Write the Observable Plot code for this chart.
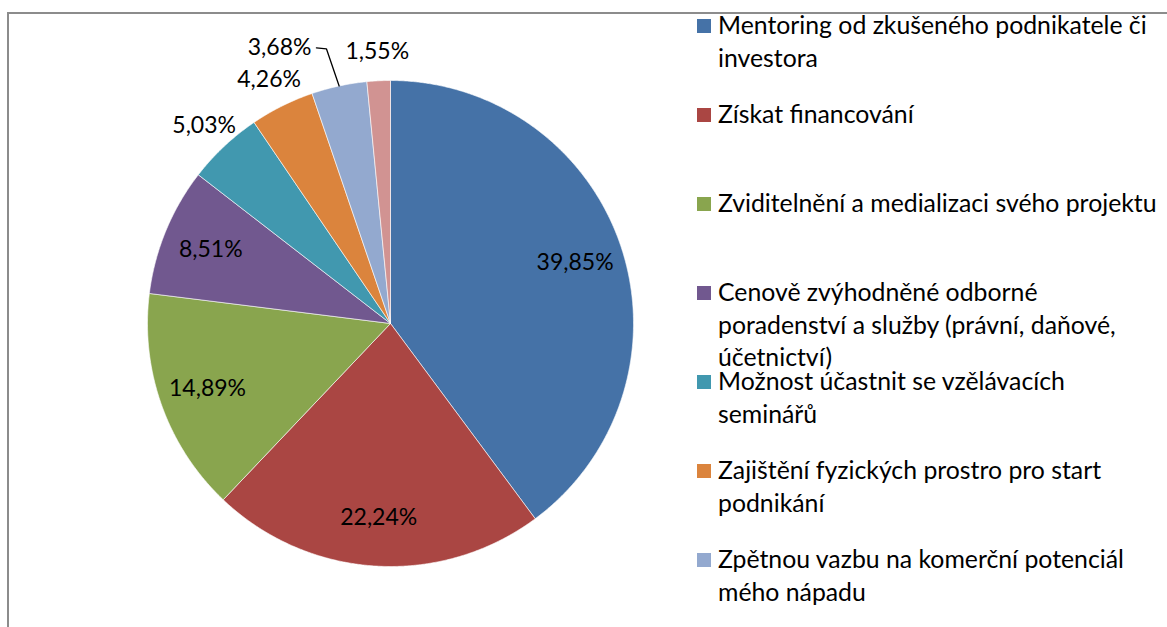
<!DOCTYPE html>
<html><head><meta charset="utf-8">
<script src="https://cdn.jsdelivr.net/npm/d3@7"></script>
<script src="https://cdn.jsdelivr.net/npm/@observablehq/plot@0.6"></script>
<style>
html,body{margin:0;padding:0;}
body{width:1167px;height:627px;overflow:hidden;position:relative;background:#fff;font-family:Lato,"Liberation Sans",sans-serif;}
#frame{position:absolute;left:7px;top:12px;width:1300px;height:800px;border-left:2px solid #8c8c8c;border-top:2px solid #8c8c8c;}
#chart{position:absolute;left:0;top:0;}
.sw{position:absolute;width:14px;height:14px;}
.lt{position:absolute;white-space:pre;font-size:24.8px;line-height:32.5px;color:#000;}
</style></head><body>
<div id="frame"></div>
<div id="chart"></div>
<div id="legend"></div>
<script>
const categories = [
  "Mentoring od zkušeného podnikatele či\ninvestora",
  "Získat financování",
  "Zviditelnění a medializaci svého projektu",
  "Cenově zvýhodněné odborné\nporadenství a služby (právní, daňové,\núčetnictví)",
  "Možnost účastnit se vzělávacích\nseminářů",
  "Zajištění fyzických prostro pro start\npodnikání",
  "Zpětnou vazbu na komerční potenciál\nmého nápadu",
  ""
];
const values = [39.85, 22.24, 14.89, 8.51, 5.03, 4.26, 3.68, 1.55];
const colors = ["#4572A7","#AA4643","#89A54E","#71588F","#4198AF","#DB843D","#93A9CF","#D19392"];

const keys = categories.map((c, i) => "s" + i);
const data = values.map((v, i) => ({key: keys[i], label: categories[i], value: v}));

const fontSize = 23;
const fontFam = "Lato";
const W = 1167, H = 627;
const R = 243;        // pie radius in px (scale unit)
const mL = 147, mT = 80;
const mR = W - mL - 2 * R, mB = H - mT - 2 * R;

const arcs = d3.pie().sort(null).value(d => d.value)(data);

// slice polygons
const pts = [];
arcs.forEach(a => {
  const n = Math.max(3, Math.ceil((a.endAngle - a.startAngle) / 0.005));
  pts.push({key: a.data.key, x: 0, y: 0});
  for (let k = 0; k <= n; k++) {
    const t = a.startAngle + (a.endAngle - a.startAngle) * k / n;
    pts.push({key: a.data.key, x: Math.sin(t), y: Math.cos(t)});
  }
  pts.push({key: a.data.key, x: 0, y: 0});
});

// labels
const ctx = document.createElement("canvas").getContext("2d");
ctx.font = `${fontSize}px ${fontFam}`;
const fmt = v => d3.format(".2f")(v).replace(".", ",") + "%";
const labels = arcs.map(a => {
  const mid = (a.startAngle + a.endAngle) / 2;
  const inside = a.data.value > 8;
  const r = inside ? 0.8 : 1.12;
  const text = fmt(a.data.value);
  return {key: a.data.key, text, mid, inside, x: Math.sin(mid) * r, y: Math.cos(mid) * r,
          w: ctx.measureText(text).width / R, h: (fontSize * 1.05) / R, leader: false};
});
// dodge outside labels, starting from last slice going counter-clockwise
const outside = labels.filter(l => !l.inside).reverse();
const placed = [];
const gap = 34 / R;
outside.forEach(l => {
  for (const p of placed) {
    const overlapX = Math.abs(l.x - p.x) < (l.w + p.w) / 2;
    const overlapY = Math.abs(l.y - p.y) < (l.h + p.h) / 2;
    if (overlapX && overlapY) {
      l.x = p.x - p.w / 2 - gap - l.w / 2;
      l.y = l.y + 0.4 * l.h;
      l.leader = true;
    }
  }
  placed.push(l);
});
const leaderPts = [];
labels.filter(l => l.leader).forEach(l => {
  const right = l.x + l.w / 2;
  leaderPts.push({key: l.key, x: Math.sin(l.mid), y: Math.cos(l.mid)});
  leaderPts.push({key: l.key, x: right + 15 / R, y: l.y - 1 / R});
  leaderPts.push({key: l.key, x: right + 5 / R, y: l.y});
});

const chart = Plot.plot({
  width: W, height: H,
  marginLeft: mL, marginRight: mR, marginTop: mT, marginBottom: mB,
  x: {domain: [-1, 1], axis: null},
  y: {domain: [-1, 1], axis: null},
  color: {domain: keys, range: colors},
  style: {background: "transparent", fontFamily: fontFam},
  marks: [
    Plot.line(pts, {x: "x", y: "y", z: "key", fill: "key", stroke: "#fff", strokeWidth: 0.6, curve: "linear"}),
    Plot.line(leaderPts, {x: "x", y: "y", z: "key", stroke: "#000", strokeWidth: 1.3, curve: "linear"}),
    Plot.text(labels, {x: "x", y: "y", text: "text", fontSize: fontSize, fill: "#000", textAnchor: "middle", lineAnchor: "middle"})
  ]
});
document.getElementById("chart").appendChild(chart);

// legend (right side)
const leg = document.getElementById("legend");
const legTop = 25.5, legStep = 89, lh = 32.5;
data.forEach((d, i) => {
  if (!d.label) return;
  const cy = legTop + i * legStep;
  const sw = document.createElement("div");
  sw.className = "sw";
  sw.style.left = "697px"; sw.style.top = (cy - 7) + "px";
  sw.style.background = colors[i];
  leg.appendChild(sw);
  const t = document.createElement("div");
  t.className = "lt";
  t.style.left = "718px"; t.style.top = (cy - lh / 2) + "px";
  t.textContent = d.label;
  leg.appendChild(t);
});
</script>
</body></html>
